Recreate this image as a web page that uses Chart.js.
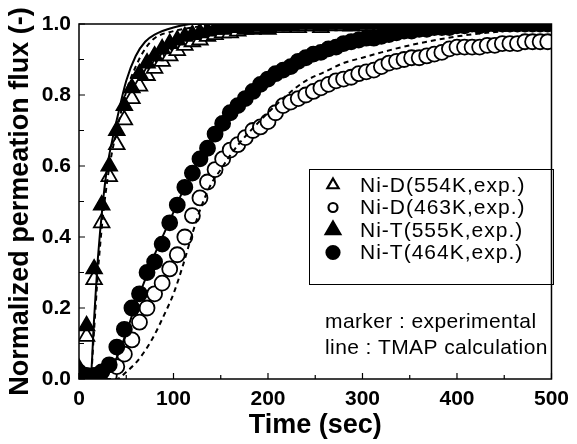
<!DOCTYPE html>
<html>
<head>
<meta charset="utf-8">
<script src="https://cdn.jsdelivr.net/npm/chart.js@4.4.1/dist/chart.umd.min.js"></script>
<style>
html, body { margin: 0; padding: 0; background: #fff; }
</style>
</head>
<body>
<canvas id="permChart" width="577" height="444"></canvas>
<script>
// experimental sampling times (sec)
var expTime = [0,8,16,24,32,40,48,56,64,72,80,88,96,104,112,120,128,136,144,152,160,168,176,184,192,200,208,216,224,232,240,248,256,264,272,280,288,296,304,312,320,328,336,344,352,360,368,376,384,392,400,408,416,424,432,440,448,456,464,472,480,488,496];

var niD554 = [0.02,0.12,0.28,0.44,0.57,0.66,0.73,0.79,0.825,0.855,
              0.875,0.895,0.91,0.925,0.94,0.95,0.955,0.965,0.97,0.975,
              0.975,0.98,0.985,0.985,0.99,0.985,0.99,0.99,0.995,0.99,
              0.995,0.995,0.99,0.995,1.0,0.995,0.995,1.0,0.995,1.0,
              0.995,1.0,1.0,0.995,1.0,1.0,0.995,1.0,1.0,1.0,
              0.995,1.0,1.0,1.0,1.0,0.995,1.0,1.0,1.0,1.0,
              1.0,1.0,1.0];
var niT555 = [0.03,0.15,0.31,0.49,0.60,0.70,0.77,0.82,0.86,0.89,
              0.91,0.93,0.945,0.955,0.965,0.97,0.975,0.98,0.985,0.985,
              0.99,0.99,0.99,0.995,0.995,0.99,0.995,1.0,0.995,1.0,
              1.0,1.0,0.995,1.0,1.0,1.0,0.995,1.0,1.0,1.0,
              1.0,1.0,0.995,1.0,1.0,1.0,1.0,1.0,1.0,1.0,
              1.0,1.0,1.0,1.0,1.0,1.0,1.0,1.0,1.0,1.0,
              1.0,1.0,1.0];
var niD463 = [0.0,0.0,0.005,0.0,0.01,0.035,0.07,0.11,0.16,0.20,
              0.24,0.27,0.31,0.35,0.40,0.46,0.51,0.555,0.59,0.62,
              0.645,0.66,0.68,0.70,0.71,0.725,0.75,0.77,0.78,0.79,
              0.80,0.81,0.82,0.83,0.84,0.845,0.85,0.86,0.865,0.87,
              0.88,0.89,0.895,0.90,0.905,0.905,0.91,0.915,0.92,0.93,
              0.935,0.935,0.935,0.935,0.94,0.94,0.945,0.945,0.945,0.95,
              0.95,0.95,0.95];
var niT464 = [0.02,0.01,0.01,0.02,0.04,0.09,0.14,0.20,0.24,0.30,
              0.33,0.38,0.44,0.49,0.54,0.58,0.62,0.65,0.69,0.72,
              0.75,0.77,0.79,0.81,0.83,0.845,0.86,0.87,0.88,0.895,
              0.905,0.915,0.92,0.93,0.935,0.945,0.95,0.955,0.96,0.96,
              0.965,0.97,0.975,0.98,0.98,0.985,0.985,0.99,0.99,0.99,
              0.995,0.995,1.0,0.995,1.0,1.0,1.0,1.0,1.0,1.0,
              1.0,1.0,1.0];

// TMAP calculation curves
var fastCalcTime = [0,12,16,20,25,30,35,40,50,60,70,80,100,120,150,200,300,400,500];
var calcT555 = [0,0,0.17,0.34,0.49,0.60,0.67,0.73,0.84,0.91,0.95,0.97,0.99,1.0,1.0,1.0,1.0,1.0,1.0];
var calcD554 = [0,0,0.14,0.30,0.45,0.56,0.64,0.70,0.81,0.88,0.93,0.96,0.98,0.99,1.0,1.0,1.0,1.0,1.0];

var slowCalcTimeT = [0,25,30,40,50,60,70,80,90,100,110,120,130,140,150,160,180,200,220,240,260,280,300,320,350,400,450,500];
var calcT464 = [0,0,0.01,0.06,0.13,0.21,0.28,0.35,0.41,0.47,0.53,0.58,0.63,0.67,0.71,0.74,0.80,0.85,0.88,0.91,0.93,0.95,0.96,0.97,0.98,0.99,1.0,1.0];

var slowCalcTimeD = [0,40,50,60,70,80,90,100,110,120,130,140,150,160,170,180,200,220,240,260,280,300,320,350,400,450,500];
var calcD463 = [0,0,0.02,0.045,0.08,0.125,0.18,0.24,0.32,0.41,0.49,0.55,0.59,0.63,0.665,0.695,0.75,0.80,0.84,0.865,0.89,0.905,0.92,0.94,0.965,0.98,0.99];

var xTicks = [0,100,200,300,400,500];
var yTicks = [0,0.2,0.4,0.6,0.8,1.0];

function pts(xs, ys) {
    return xs.map(function (x, i) { return { x: x, y: ys[i] }; });
}

Chart.defaults.font.family = "'Liberation Sans', Arial, sans-serif";
Chart.defaults.color = '#000';

function markerSet(label, data, style, filled, radius) {
    return {
        label: label,
        data: data,
        showLine: false,
        pointStyle: style,
        pointRadius: radius,
        pointHoverRadius: radius,
        pointBackgroundColor: filled ? '#000' : '#fff',
        pointBorderColor: '#000',
        pointBorderWidth: 1.8,
        order: filled ? 1 : 2,   // filled markers sit on top of open ones
        clip: 0,
        isMarker: true
    };
}

function calcSet(label, data, dashed) {
    return {
        label: label,
        data: data,
        showLine: true,
        borderColor: '#000',
        borderWidth: 2,
        borderDash: dashed ? [5, 4] : [],
        pointRadius: 0,
        cubicInterpolationMode: 'monotone',
        order: 0,
        clip: 0
    };
}

var legendNote = {
    id: 'legendNote',
    afterDraw: function (chart) {
        var ctx = chart.ctx, a = chart.chartArea;
        var x = chart.scales.x, y = chart.scales.y;
        ctx.save();
        // frame
        ctx.strokeStyle = '#000';
        ctx.lineWidth = 1.5;
        ctx.strokeRect(a.left, a.top, a.right - a.left, a.bottom - a.top);
        // inward ticks
        ctx.lineWidth = 1.2;
        ctx.beginPath();
        for (var t = 0; t <= 500; t += 50) {
            var px = x.getPixelForValue(t);
            var len = (t % 100 === 0) ? 6 : 4;
            ctx.moveTo(px, a.bottom);
            ctx.lineTo(px, a.bottom - len);
        }
        for (var k = 0; k <= 10; k++) {
            var py = y.getPixelForValue(k / 10);
            var l2 = (k % 2 === 0) ? 6 : 5;
            ctx.moveTo(a.left, py);
            ctx.lineTo(a.left + l2, py);
        }
        ctx.stroke();

        // legend box
        var bx = a.left + 230, by = a.top + 145;
        ctx.lineWidth = 1;
        ctx.strokeRect(bx + 0.5, by + 0.5, 244, 115);
        ctx.font = "21px 'Liberation Sans', Arial, sans-serif";
        ctx.letterSpacing = '1px';
        ctx.textBaseline = 'middle';
        ctx.textAlign = 'left';
        var sizes = [6.5, 4.5, 8.5, 6.5];
        var row = 0;
        chart.data.datasets.forEach(function (ds) {
            if (!ds.isMarker) return;
            var cy = by + 16 + row * 22.5;
            ctx.fillStyle = ds.pointBackgroundColor;
            ctx.strokeStyle = '#000';
            ctx.lineWidth = 2.2;
            Chart.helpers.drawPoint(ctx, { pointStyle: ds.pointStyle, radius: sizes[row], rotation: 0, borderWidth: 2.2 }, bx + 24, cy);
            ctx.fillStyle = '#000';
            ctx.fillText(ds.label, bx + 51, cy + 1);
            row++;
        });

        ctx.letterSpacing = '0.4px';
        ctx.fillText('marker : experimental', a.left + 246, a.top + 298);
        ctx.fillText('line : TMAP calculation', a.left + 246, a.top + 324);
        ctx.restore();
    }
};

var permChart = new Chart(document.getElementById('permChart'), {
    type: 'scatter',
    data: {
        datasets: [
            calcSet('T555 calc', pts(fastCalcTime, calcT555), false),
            calcSet('D554 calc', pts(fastCalcTime, calcD554), true),
            calcSet('T464 calc', pts(slowCalcTimeT, calcT464), false),
            calcSet('D463 calc', pts(slowCalcTimeD, calcD463), true),
            markerSet('Ni-D(554K,exp.)', pts(expTime, niD554), 'triangle', false, 9),
            markerSet('Ni-D(463K,exp.)', pts(expTime, niD463), 'circle', false, 7.5),
            markerSet('Ni-T(555K,exp.)', pts(expTime, niT555), 'triangle', true, 9),
            markerSet('Ni-T(464K,exp.)', pts(expTime, niT464), 'circle', true, 7.5)
        ]
    },
    options: {
        responsive: false,
        animation: false,
        events: [],
        layout: { padding: { left: 0, right: 17, top: 24, bottom: 0 } },
        plugins: { legend: { display: false }, tooltip: { enabled: false } },
        scales: {
            x: {
                type: 'linear',
                min: 0,
                max: 500,
                afterBuildTicks: function (s) { s.ticks = xTicks.map(function (v) { return { value: v }; }); },
                afterFit: function (s) { s.height = 65; },
                grid: { display: false, drawTicks: false },
                border: { display: false },
                ticks: { font: { size: 21, weight: 'bold' }, padding: 8, maxRotation: 0 },
                title: { display: true, text: 'Time (sec)', font: { size: 27, weight: 'bold' }, padding: { top: 0, bottom: 2 } }
            },
            y: {
                type: 'linear',
                min: 0,
                max: 1,
                afterBuildTicks: function (s) { s.ticks = yTicks.map(function (v) { return { value: v }; }); },
                afterFit: function (s) { s.width = 79; },
                grid: { display: false, drawTicks: false },
                border: { display: false },
                ticks: { font: { size: 21, weight: 'bold' }, padding: 8, callback: function (v) { return v.toFixed(1); } },
                title: { display: true, text: 'Normalized permeation flux (-)', font: { size: 27, weight: 'bold' }, padding: { top: 4, bottom: 0 } }
            }
        }
    },
    plugins: [legendNote]
});
</script>
</body>
</html>
